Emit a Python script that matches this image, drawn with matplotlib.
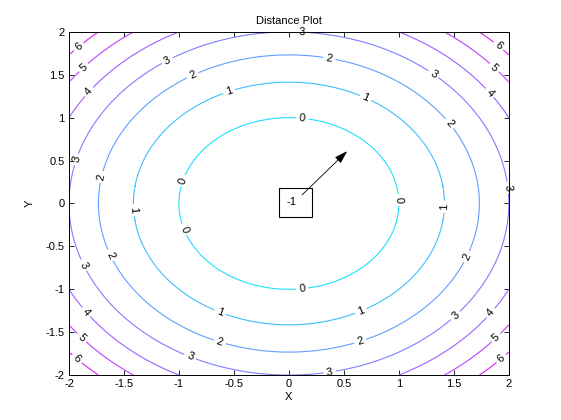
import numpy as np
import matplotlib
matplotlib.use('Agg')
import matplotlib.pyplot as plt
from matplotlib.patches import Rectangle

plt.rcParams['font.family'] = ['Liberation Sans', 'DejaVu Sans']

# distance surface z = x^2 + y^2 - 1 on the plotted square
x = np.linspace(-2, 2, 401)
y = np.linspace(-2, 2, 401)
levels = [0, 1, 2, 3, 4, 5, 6]
ticks = [-2, -1.5, -1, -0.5, 0, 0.5, 1, 1.5, 2]
tick_labels = ['-2', '-1.5', '-1', '-0.5', '0', '0.5', '1', '1.5', '2']

# where the contour labels sit
label_pos = [
    (0.12, 1.97), (0.37, 1.71), (0.69, 1.21), (0.12, 0.96),
    (-1.1, 1.65), (-0.87, 1.48), (-0.54, 1.29),
    (-1.9, 1.81), (-1.85, 1.56), (-1.8, 1.28),
    (-1.92, 0.51), (-1.67, 0.3), (-1.42, -0.08),
    (-0.95, 0.26), (-0.95, -0.3),
    (-1.62, -0.6), (-1.9, -0.74), (-1.83, -1.25), (-1.88, -1.56), (-1.92, -1.8),
    (-0.9, -1.79), (-0.63, -1.62), (-0.63, -1.28), (0.12, -0.99),
    (0.66, -1.27), (0.65, -1.62), (0.37, -1.96),
    (0.99, 0.04), (1.43, -0.04), (1.45, 0.92), (1.62, -0.62),
    (1.31, 1.5), (1.95, 0.18), (1.51, -1.3),
    (1.81, 1.27), (1.83, -1.27), (1.85, 1.56), (1.88, -1.56),
    (1.89, 1.81), (1.92, -1.79),
]

# annotation: centre value box and arrow
center_text = '-1'
box_xy = (-0.09, -0.16)
box_size = (0.30, 0.34)
arrow_tail = (0.12, 0.10)
arrow_head = (0.53, 0.61)

X, Y = np.meshgrid(x, y)
Z = X ** 2 + Y ** 2 - 1

fig = plt.figure(figsize=(5.61, 4.2), dpi=100)
ax = fig.add_axes([0.123, 0.107, 0.784, 0.817])

norm = matplotlib.colors.Normalize(vmin=-1, vmax=7)
cs = ax.contour(X, Y, Z, levels=levels, cmap='cool', norm=norm, linewidths=0.8)
labels = ax.clabel(cs, levels, inline=True, fontsize=8, colors='black',
                   manual=label_pos, inline_spacing=3, fmt='%d')
for t in labels:
    t.set_clip_on(False)

ax.add_patch(Rectangle(box_xy, box_size[0], box_size[1], fill=False,
                       edgecolor='black', linewidth=0.8))
ax.text(0.02, 0.02, center_text, ha='center', va='center', fontsize=8)
ax.annotate('', xy=arrow_head, xytext=arrow_tail,
            arrowprops=dict(arrowstyle='-|>,head_length=0.8,head_width=0.25',
                            color='black', lw=0.6, shrinkA=0, shrinkB=0))

ax.set_xlim(-2, 2)
ax.set_ylim(-2, 2)
ax.set_xticks(ticks)
ax.set_xticklabels(tick_labels)
ax.set_yticks(ticks)
ax.set_yticklabels(tick_labels)
ax.tick_params(direction='in', length=3.5, width=0.6, labelsize=8,
               top=True, right=True, pad=3)
for s in ax.spines.values():
    s.set_linewidth(0.7)
ax.set_xlabel('X', fontsize=8, labelpad=2)
ax.set_ylabel('Y', fontsize=8, labelpad=8)
ax.set_title('Distance Plot', fontsize=8, pad=6)

fig.savefig('out.png', dpi=100)
